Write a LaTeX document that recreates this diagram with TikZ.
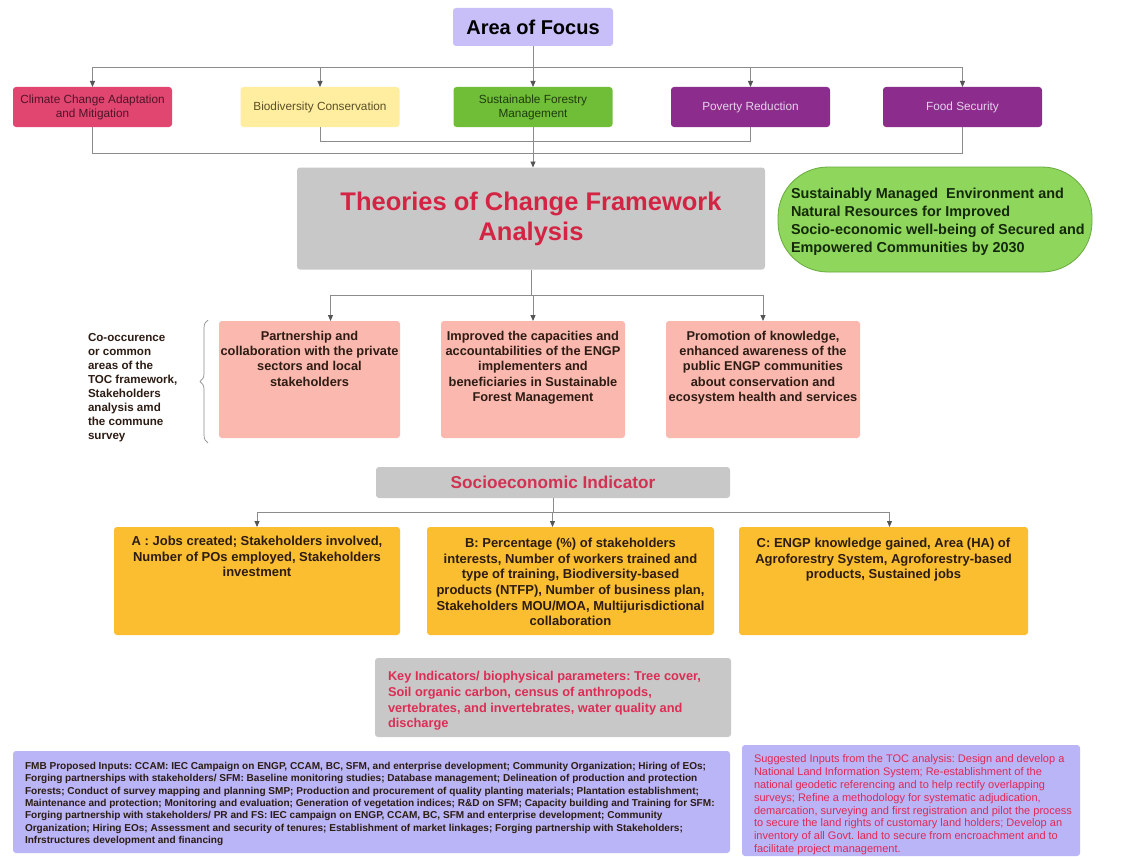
\documentclass[tikz,border=0pt]{standalone}
\usepackage{fontspec}
\setmainfont{Liberation Sans}
\usetikzlibrary{arrows.meta,positioning,decorations.pathreplacing}
\frenchspacing
\newcommand{\txtsize}[2]{\fontsize{#1}{#2}\selectfont}
\definecolor{focuslav}{RGB}{200,190,248}
\definecolor{inputlav}{RGB}{186,181,246}
\definecolor{climred}{RGB}{224,70,112}
\definecolor{biodivyel}{RGB}{255,237,160}
\definecolor{forestgrn}{RGB}{112,190,56}
\definecolor{povpurple}{RGB}{140,44,140}
\definecolor{tocgray}{RGB}{200,200,200}
\definecolor{tocred}{RGB}{212,36,68}
\definecolor{visiongrn}{RGB}{142,214,92}
\definecolor{visionedge}{RGB}{104,170,62}
\definecolor{goalpink}{RGB}{250,184,174}
\definecolor{indorange}{RGB}{250,190,48}
\definecolor{linegray}{RGB}{140,140,140}
\definecolor{tipgray}{RGB}{85,85,85}
\definecolor{darktext}{RGB}{45,28,20}

\begin{document}
\begin{tikzpicture}[x=1pt,y=-1pt,
  every node/.style={inner sep=0pt,outer sep=0pt},
  box/.style={rounded corners=3pt,align=center},
  area/.style={box,minimum width=159pt,minimum height=40pt,
    font=\txtsize{11.8}{14}},
  pinkbox/.style={box,fill=goalpink,minimum height=117pt},
  orangebox/.style={box,fill=indorange,minimum width=287pt,minimum height=108pt},
  boxtext/.style={align=center,anchor=north,text=darktext,
    font=\bfseries\txtsize{12.8}{15.3}},
  indtext/.style={align=center,anchor=north,text=darktext,
    font=\bfseries\txtsize{13}{15.7}},
  conn/.style={draw=linegray,line width=0.9pt},
  arr/.style={conn,-{Triangle[length=6pt,width=5pt,color=tipgray]}}]
  \useasboundingbox[fill=white] (0,0) rectangle (1134,856);

  % Area of focus and its five themes
  \node[box,fill=focuslav,minimum width=160pt,minimum height=38pt,
    font=\bfseries\txtsize{20}{24}] (focus) at (533,27) {Area of Focus};
  \node[area,fill=climred,text={rgb,255:red,80;green,20;blue,40}] (climate) at (92.5,107)
    {Climate Change Adaptation\\and Mitigation};
  \node[area,fill=biodivyel,text={rgb,255:red,90;green,80;blue,40}] (biodiv) at (320,107)
    {Biodiversity Conservation};
  \node[area,fill=forestgrn,text={rgb,255:red,30;green,60;blue,12}] (forestry) at (533,107)
    {Sustainable Forestry\\Management};
  \node[area,fill=povpurple,text={rgb,255:red,230;green,210;blue,235}] (poverty) at (750.5,107)
    {Poverty Reduction};
  \node[area,fill=povpurple,text={rgb,255:red,230;green,210;blue,235}] (foodsec) at (962.5,107)
    {Food Security};

  \coordinate (topbus) at (533,67);
  \draw[conn] (focus.south) -- (topbus);
  \draw[conn] (climate.north |- topbus) -- (foodsec.north |- topbus);
  \foreach \t in {climate,biodiv,forestry,poverty,foodsec}
    \draw[arr] (\t.north |- topbus) -- (\t.north);
  \draw[conn] (biodiv.south) -- ++(0,14) -| (poverty.south);
  \draw[conn] (climate.south) -- ++(0,26) -| (foodsec.south);

  % Theories of change
  \node[box,fill=tocgray,minimum width=468pt,minimum height=102pt,
    text=tocred,font=\bfseries\txtsize{25.5}{30}] (toc) at (531,218.5)
    {Theories of Change Framework\\Analysis};
  \draw[arr] (forestry.south) -- (forestry.south |- toc.north);
  \node[fill=visiongrn,draw=visionedge,line width=0.8pt,rounded corners=50pt,
    minimum width=314pt,minimum height=105pt] (vision) at (935,219.5) {};
  \node[anchor=north west,align=left,font=\bfseries\txtsize{14.4}{17.7},
    text={rgb,255:red,20;green,40;blue,10}] (visiontxt) at (791,188.5)
    {Sustainably Managed\ \ Environment and\\Natural Resources for Improved\\
     Socio-economic well-being of Secured and\\Empowered Communities by 2030};

  % Three goal areas
  \node[pinkbox,minimum width=181pt] (part) at (309.5,379.5) {};
  \node[pinkbox,minimum width=184pt] (capac) at (533,379.5) {};
  \node[pinkbox,minimum width=194pt] (promo) at (763,379.5) {};
  \node[boxtext,below=10pt of part.north] (parttxt)
    {Partnership and\\collaboration with the private\\sectors and local\\stakeholders};
  \node[boxtext,below=10pt of capac.north] (capactxt)
    {Improved the capacities and\\accountabilities of the ENGP\\implementers and\\
     beneficiaries in Sustainable\\Forest Management};
  \node[boxtext,below=10pt of promo.north] (promotxt)
    {Promotion of knowledge,\\enhanced awareness of the\\public ENGP communities\\
     about conservation and\\ecosystem health and services};

  \coordinate (goalbus) at (533,295);
  \draw[conn] (toc.south) -- (toc.south |- goalbus);
  \draw[conn] ([xshift=21pt]part.north |- goalbus) -- (promo.north |- goalbus);
  \draw[arr] ([xshift=21pt]part.north |- goalbus) -- ([xshift=21pt]part.north);
  \draw[arr] (capac.north |- goalbus) -- (capac.north);
  \draw[arr] (promo.north |- goalbus) -- (promo.north);

  \node[anchor=north west,align=left,text=darktext,
    font=\bfseries\txtsize{11.6}{14}] (cooccur) at (88,333.5)
    {Co-occurence\\or common\\areas of the\\TOC framework,\\Stakeholders\\
     analysis amd\\the commune\\survey};
  \coordinate (bracebot) at (208,443);
  \coordinate (bracetop) at (208,320);
  \draw[linegray,line width=0.7pt,decorate,decoration={brace,amplitude=8pt}]
    (bracebot) -- (bracetop);

  % Socioeconomic indicators
  \node[box,fill=tocgray,minimum width=354pt,minimum height=31pt,
    text={rgb,255:red,210;green,50;blue,82},font=\bfseries\txtsize{17.2}{20}] (socio)
    at (553,482.5) {Socioeconomic Indicator};
  \node[orangebox,minimum width=286pt] (inda) at (257,581) {};
  \node[orangebox] (indb) at (570.5,581) {};
  \node[orangebox,minimum width=289pt] (indc) at (883.5,581) {};
  \node[indtext,below=9pt of inda.north] (indatxt)
    {A : Jobs created; Stakeholders involved,\\Number of POs employed, Stakeholders\\investment};
  \node[indtext,below=11pt of indb.north] (indbtxt)
    {B: Percentage (\%) of stakeholders\\interests, Number of workers trained and\\
     type of training, Biodiversity-based\\products (NTFP), Number of business plan,\\
     Stakeholders MOU/MOA, Multijurisdictional\\collaboration};
  \node[indtext,below=11pt of indc.north] (indctxt)
    {C: ENGP knowledge gained, Area (HA) of\\Agroforestry System, Agroforestry-based\\
     products, Sustained jobs};

  \coordinate (indbus) at (553,512);
  \draw[conn] (socio.south) -- (indbus);
  \draw[conn] (inda.north |- indbus) -- ([xshift=6pt]indc.north |- indbus);
  \draw[arr] (inda.north |- indbus) -- (inda.north);
  \draw[arr] ([xshift=-18pt]indb.north |- indbus) -- ([xshift=-18pt]indb.north);
  \draw[arr] ([xshift=6pt]indc.north |- indbus) -- ([xshift=6pt]indc.north);

  % Biophysical key indicators
  \node[box,fill=tocgray,minimum width=356pt,minimum height=79pt] (keyind)
    at (553,697.5) {};
  \node[anchor=north west,align=left,text={rgb,255:red,220;green,45;blue,85},
    font=\bfseries\txtsize{12.8}{15.7}] (keyindtxt) at (388,671.5)
    {Key Indicators/ biophysical parameters: Tree cover,\\
     Soil organic carbon, census of anthropods,\\
     vertebrates, and invertebrates, water quality and\\discharge};

  % Inputs
  \node[box,fill=inputlav,minimum width=717pt,minimum height=102pt] (fmb)
    at (371.5,802) {};
  \node[anchor=north west,align=left,text=darktext,
    font=\bfseries\txtsize{10.05}{12.4}] (fmbtxt) at (25,762)
    {FMB Proposed Inputs: CCAM: IEC Campaign on ENGP, CCAM, BC, SFM, and enterprise development; Community Organization; Hiring of EOs;\\
     Forging partnerships with stakeholders/ SFM: Baseline monitoring studies; Database management; Delineation of production and protection\\
     Forests; Conduct of survey mapping and planning SMP; Production and procurement of quality planting materials; Plantation establishment;\\
     Maintenance and protection; Monitoring and evaluation; Generation of vegetation indices; R\&D on SFM; Capacity building and Training for SFM:\\
     Forging partnership with stakeholders/ PR and FS: IEC campaign on ENGP, CCAM, BC, SFM and enterprise development; Community\\
     Organization; Hiring EOs; Assessment and security of tenures; Establishment of market linkages; Forging partnership with Stakeholders;\\
     Infrstructures development and financing};
  \node[box,fill=inputlav,minimum width=338pt,minimum height=111pt] (suggest)
    at (911,800.5) {};
  \node[anchor=north west,align=left,text={rgb,255:red,225;green,40;blue,85},
    font=\txtsize{11}{12.9}] (suggesttxt) at (754,754.5)
    {Suggested Inputs from the TOC analysis: Design and develop a\\
     National Land Information System; Re-establishment of the\\
     national geodetic referencing and to help rectify overlapping\\
     surveys; Refine a methodology for systematic adjudication,\\
     demarcation, surveying and first registration and pilot the process\\
     to secure the land rights of customary land holders; Develop an\\
     inventory of all Govt. land to secure from encroachment and to\\
     facilitate project management.};
\end{tikzpicture}
\end{document}
